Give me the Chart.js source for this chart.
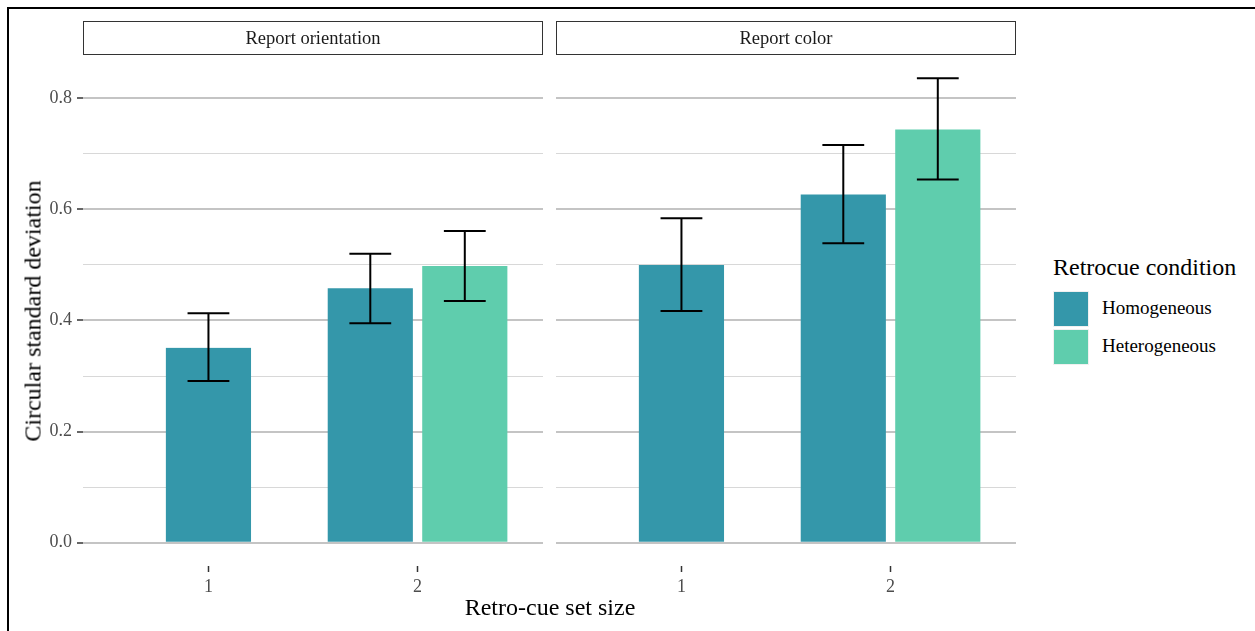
<!DOCTYPE html>
<html>
<head>
<meta charset="utf-8">
<script src="https://cdn.jsdelivr.net/npm/chart.js@4/dist/chart.umd.min.js"></script>
<style>
  body { margin: 0; background: #fff; }
  #page { position: relative; width: 1255px; height: 631px; overflow: hidden; font-family: "Liberation Serif", "Times New Roman", serif; }
  #frame { position: absolute; left: 7px; top: 7px; width: 1260px; height: 640px; border-top: 2px solid #000; border-left: 2px solid #000; }
  .wrap { position: absolute; }
  .strip { position: absolute; top: 21px; height: 32px; border: 1px solid #333; box-sizing: content-box;
           font-size: 18.5px; color: #1a1a1a; text-align: center; line-height: 33px; }
  .title { position: absolute; font-size: 24px; color: #000; white-space: nowrap; }
  .key { position: absolute; left: 1053px; width: 34px; height: 34px; border: 1px solid #f0f0f0; }
  .klab { position: absolute; left: 1102px; font-size: 19px; color: #000; line-height: 20px; }
</style>
</head>
<body>
<div id="page">
  <div id="frame"></div>
  <div class="wrap" style="left:0;top:0;width:550px;height:600px"><canvas id="c1"></canvas></div>
  <div class="wrap" style="left:550px;top:0;width:473px;height:600px"><canvas id="c2"></canvas></div>
  <div class="strip" style="left:83px;width:458px">Report orientation</div>
  <div class="strip" style="left:556px;width:458px">Report color</div>
  <div class="title" style="left:550px;top:594px;transform:translateX(-50%)">Retro-cue set size</div>
  <div class="title" style="left:33px;top:311px;transform:translate(-50%,-50%) rotate(-90deg)">Circular standard deviation</div>
  <div class="title" style="left:1053px;top:254px">Retrocue condition</div>
  <div class="key" style="top:291px;background:#3497aa"></div>
  <div class="key" style="top:329px;background:#5fcdad"></div>
  <div class="klab" style="top:298px">Homogeneous</div>
  <div class="klab" style="top:336px">Heterogeneous</div>
</div>
<script>
// set size categories
const setSizes = [1, 2];
const setLabels = ["1", "2"];
const yTicks = [0, 0.1, 0.2, 0.3, 0.4, 0.5, 0.6, 0.7, 0.8];

// Report orientation
const orientHomo = [0.351, 0.458];
const orientHomoLo = [0.291, 0.395];
const orientHomoHi = [0.413, 0.520];
const orientHetero = [null, 0.498];
const orientHeteroLo = [null, 0.435];
const orientHeteroHi = [null, 0.561];

// Report color
const colorHomo = [0.500, 0.627];
const colorHomoLo = [0.417, 0.539];
const colorHomoHi = [0.584, 0.716];
const colorHetero = [null, 0.744];
const colorHeteroLo = [null, 0.654];
const colorHeteroHi = [null, 0.836];

const HOMO = "#3497aa";
const HETERO = "#5fcdad";

// error bars drawn from the lo / hi arrays of each dataset
const errorBars = {
    id: "errorBars",
    afterDatasetsDraw(chart) {
        const ctx = chart.ctx;
        const xs = chart.scales.x, ys = chart.scales.y;
        const half = Math.abs(xs.getPixelForValue(1.1) - xs.getPixelForValue(1));
        ctx.save();
        ctx.strokeStyle = "#000";
        ctx.lineWidth = 2;
        chart.data.datasets.forEach((ds, i) => {
            const meta = chart.getDatasetMeta(i);
            meta.data.forEach((bar, j) => {
                if (ds.errLo[j] == null) return;
                const x = bar.x;
                const lo = ys.getPixelForValue(ds.errLo[j]);
                const hi = ys.getPixelForValue(ds.errHi[j]);
                ctx.beginPath();
                ctx.moveTo(x, lo); ctx.lineTo(x, hi);
                ctx.moveTo(x - half, lo); ctx.lineTo(x + half, lo);
                ctx.moveTo(x - half, hi); ctx.lineTo(x + half, hi);
                ctx.stroke();
            });
        });
        ctx.restore();
    }
};

function isMajor(v) {
    return Math.round(v * 10) % 2 === 0;
}

function makeChart(id, homo, homoLo, homoHi, het, hetLo, hetHi, first) {
    const pts = vals => setSizes.map((x, i) => ({ x: x, y: vals[i] }));
    const barStyle = {
        barThickness: 94.5,
        borderWidth: { left: 5, right: 5, top: 0, bottom: 0 },
        borderColor: "rgba(0,0,0,0)",
        skipNull: true
    };
    return new Chart(document.getElementById(id), {
        type: "bar",
        data: {
            datasets: [
                Object.assign({ label: "Homogeneous", data: pts(homo), backgroundColor: HOMO, errLo: homoLo, errHi: homoHi }, barStyle),
                Object.assign({ label: "Heterogeneous", data: pts(het), backgroundColor: HETERO, errLo: hetLo, errHi: hetHi }, barStyle)
            ]
        },
        options: {
            responsive: true,
            maintainAspectRatio: false,
            animation: false,
            layout: { padding: { top: 55, right: 7, left: first ? 0 : 6, bottom: 0 } },
            plugins: { legend: { display: false }, tooltip: { enabled: false } },
            scales: {
                x: {
                    type: "linear",
                    min: 0.4,
                    max: 2.6,
                    offset: false,
                    afterBuildTicks: s => { s.ticks = setSizes.map(v => ({ value: v })); },
                    afterFit: s => { s.height = 34; },
                    border: { display: false },
                    grid: {
                        offset: false,
                        drawOnChartArea: false,
                        drawTicks: true,
                        tickLength: 6,
                        tickColor: "#333",
                        tickWidth: 1.5
                    },
                    ticks: {
                        padding: 4,
                        color: "#4d4d4d",
                        font: { family: "Liberation Serif", size: 18 },
                        callback: (v) => setLabels[setSizes.indexOf(v)]
                    }
                },
                y: {
                    min: -0.042,
                    max: 0.878,
                    afterBuildTicks: s => { s.ticks = yTicks.map(v => ({ value: v })); },
                    afterFit: s => { s.width = first ? 83 : 0; },
                    border: { display: false },
                    grid: {
                        color: c => isMajor(c.tick.value) ? "#c4c4c4" : "#d8d8d8",
                        lineWidth: c => isMajor(c.tick.value) ? 2 : 1,
                        drawTicks: first,
                        tickLength: 6,
                        tickColor: c => isMajor(c.tick.value) ? "#333" : "rgba(0,0,0,0)",
                        tickWidth: 1.5
                    },
                    ticks: {
                        display: first,
                        padding: 5,
                        color: "#4d4d4d",
                        font: { family: "Liberation Serif", size: 18 },
                        callback: v => isMajor(v) ? v.toFixed(1) : ""
                    }
                }
            }
        },
        plugins: [errorBars]
    });
}

makeChart("c1", orientHomo, orientHomoLo, orientHomoHi, orientHetero, orientHeteroLo, orientHeteroHi, true);
makeChart("c2", colorHomo, colorHomoLo, colorHomoHi, colorHetero, colorHeteroLo, colorHeteroHi, false);
</script>
</body>
</html>
